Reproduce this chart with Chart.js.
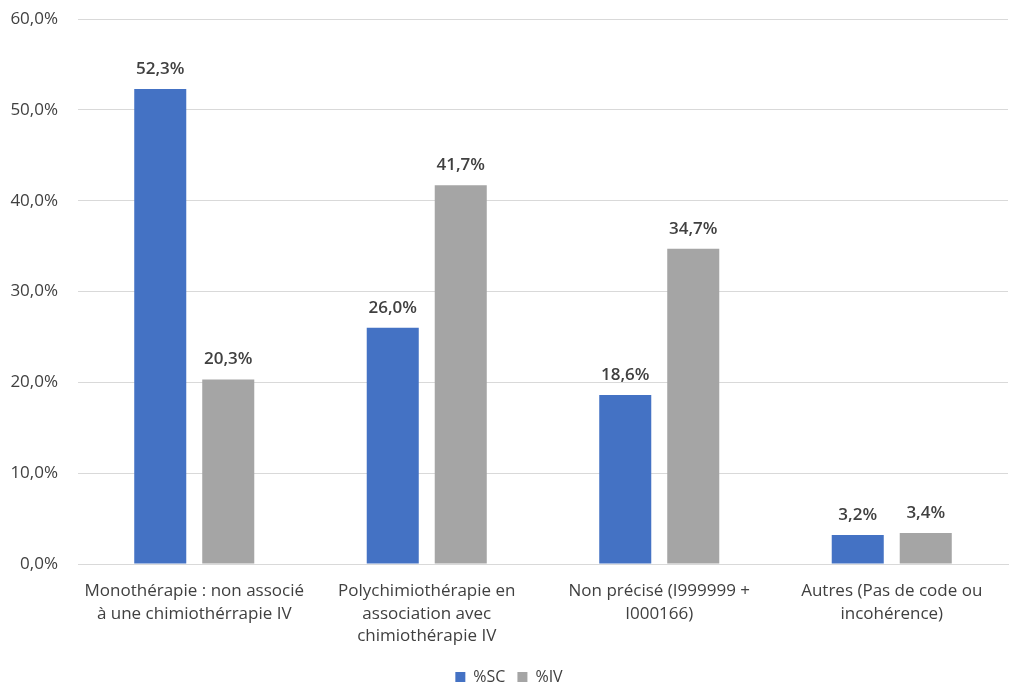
<!DOCTYPE html>
<html>
<head>
<meta charset="utf-8">
<script src="https://cdn.jsdelivr.net/npm/chart.js@4"></script>
<style>
  html, body { margin: 0; padding: 0; background: #fff; }
  #wrap { width: 1009px; height: 688px; }
</style>
</head>
<body>
<div id="wrap"><canvas id="myChart" width="1009" height="688"></canvas></div>
<script>
const categories = [
    ['Monothérapie : non associé', 'à une chimiothérrapie IV'],
    ['Polychimiothérapie en', 'association avec', 'chimiothérapie IV'],
    ['Non précisé (I999999 +', 'I000166)'],
    ['Autres (Pas de code ou', 'incohérence)']
];
const valuesSC = [52.3, 26.0, 18.6, 3.2];
const valuesIV = [20.3, 41.7, 34.7, 3.4];
const yTicks = [0, 10, 20, 30, 40, 50, 60];

const fmt = v => v.toFixed(1).replace('.', ',') + '%';

// draws value labels above each bar
const barLabels = {
    id: 'barLabels',
    afterDatasetsDraw(chart) {
        const ctx = chart.ctx;
        ctx.save();
        ctx.font = '600 17px "Open Sans"';
        ctx.fillStyle = '#404040';
        ctx.textAlign = 'center';
        ctx.textBaseline = 'middle';
        chart.data.datasets.forEach((ds, i) => {
            chart.getDatasetMeta(i).data.forEach((bar, j) => {
                ctx.fillText(fmt(ds.data[j]), bar.x, bar.y - 20);
            });
        });
        ctx.restore();
    }
};

chartGraph();

function chartGraph() {
    const ctx = document.getElementById('myChart').getContext('2d');
    const chart = new Chart(ctx, {
        type: 'bar',
        data: {
            labels: categories,
            datasets: [{
                label: '%SC',
                data: valuesSC,
                backgroundColor: '#4472C4',
                categoryPercentage: 0.585,
                barPercentage: 0.765
            }, {
                label: '%IV',
                data: valuesIV,
                backgroundColor: '#A5A5A5',
                categoryPercentage: 0.585,
                barPercentage: 0.765
            }]
        },
        options: {
            responsive: false,
            animation: false,
            layout: { padding: { left: 10, right: 1, top: 19, bottom: -7 } },
            plugins: {
                legend: {
                    position: 'bottom',
                    labels: {
                        boxWidth: 10,
                        boxHeight: 10,
                        padding: 12,
                        color: '#404040',
                        font: { family: 'Open Sans', size: 16 }
                    }
                },
                tooltip: { enabled: false }
            },
            scales: {
                x: {
                    grid: { display: false },
                    border: { color: '#D9D9D9' },
                    afterFit: scale => { scale.height = 93; },
                    ticks: {
                        color: '#404040',
                        font: { family: 'Open Sans', size: 17, lineHeight: 1.32 },
                        maxRotation: 0,
                        padding: 8
                    }
                },
                y: {
                    min: 0,
                    max: 60,
                    afterBuildTicks: axis => {
                        axis.ticks = yTicks.map(v => ({ value: v }));
                    },
                    afterFit: scale => {
                        scale.width = 68;
                        scale.paddingTop = 0;
                        scale.paddingBottom = 0;
                    },
                    grid: { color: '#D9D9D9', drawTicks: false },
                    border: { display: false },
                    ticks: {
                        color: '#404040',
                        font: { family: 'Open Sans', size: 17 },
                        padding: 20,
                        callback: v => fmt(v)
                    }
                }
            }
        },
        plugins: [barLabels]
    });
}
</script>
</body>
</html>
